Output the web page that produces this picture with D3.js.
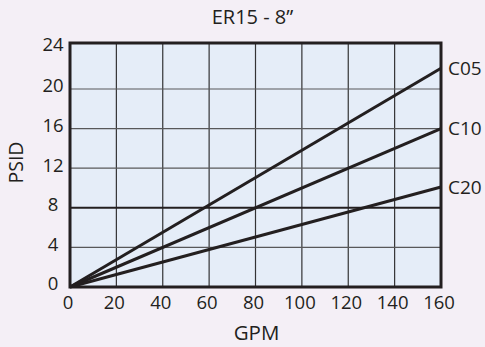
<!DOCTYPE html>
<html><head><meta charset="utf-8">
<script src="https://cdn.jsdelivr.net/npm/d3@7"></script>
<style>
html,body{margin:0;padding:0;background:#f4eff6;}
svg{display:block;}
text{font-family:"Open Sans",sans-serif;fill:#231f20;}
</style></head>
<body>
<svg id="chart" width="485" height="347"></svg>
<script>
const title = "ER15 - 8\u201D";
const xLabel = "GPM";
const yLabel = "PSID";
const xTicks = [0, 20, 40, 60, 80, 100, 120, 140, 160];
const yTicks = [0, 4, 8, 12, 16, 20, 24];
const seriesNames = ["C05", "C10", "C20"];
const flowGPM = [0, 160];
const c05 = [0, 21.8];
const c10 = [0, 16];
const c20 = [0, 10.1];
const seriesValues = [c05, c10, c20];

const svg = d3.select("#chart");
const pL = 70, pR = 441, pT = 43, pB = 287;
const x = d3.scaleLinear().domain([0, 160]).range([pL, pR]);
// the printed chart's top row is slightly taller than the others
const y = d3.scaleLinear().domain([0, 20, 24]).range([pB, 89, pT]);

svg.append("rect").attr("x", pL).attr("y", pT)
  .attr("width", pR - pL).attr("height", pB - pT)
  .attr("fill", "#e5edf8");

// grid
svg.append("g").selectAll("line").data(xTicks.slice(1, -1)).join("line")
  .attr("x1", d => x(d)).attr("x2", d => x(d))
  .attr("y1", pT).attr("y2", pB)
  .attr("stroke", "#333335").attr("stroke-width", 1.2);
svg.append("g").selectAll("line").data(yTicks.slice(1, -1)).join("line")
  .attr("x1", pL).attr("x2", pR)
  .attr("y1", d => y(d)).attr("y2", d => y(d))
  .attr("stroke", d => d === 8 ? "#231f20" : "#58585a")
  .attr("stroke-width", d => d === 8 ? 2 : 1.2);

// lines
const line = d3.line().x((d, i) => x(flowGPM[i])).y(d => y(d));
svg.append("g").selectAll("path").data(seriesValues).join("path")
  .attr("d", d => line(d))
  .attr("fill", "none").attr("stroke", "#231f20").attr("stroke-width", 3);

// border
svg.append("rect").attr("x", pL).attr("y", pT)
  .attr("width", pR - pL).attr("height", pB - pT)
  .attr("fill", "none").attr("stroke", "#231f20").attr("stroke-width", 3);

// axes labels
svg.append("g").selectAll("text").data(xTicks).join("text")
  .attr("x", d => x(d) - 2).attr("y", 309)
  .attr("text-anchor", "middle").attr("font-size", 18.5)
  .text(d => d);
svg.append("g").selectAll("text").data(yTicks).join("text")
  .attr("x", 53).attr("y", d => Math.max(y(d) - 3, pT + 2))
  .attr("dy", "0.35em")
  .attr("text-anchor", "middle").attr("font-size", 18.5)
  .text(d => d);

// series labels
svg.append("g").selectAll("text").data(seriesNames).join("text")
  .attr("x", 448).attr("y", (d, i) => y(seriesValues[i][1]))
  .attr("dy", "0.35em").attr("font-size", 19)
  .text(d => d);

svg.append("text").attr("x", 252.5).attr("y", 24)
  .attr("text-anchor", "middle").attr("font-size", 20).text(title);
svg.append("text").attr("x", 256.5).attr("y", 340)
  .attr("text-anchor", "middle").attr("font-size", 20.5).text(xLabel);
svg.append("text").attr("transform", "translate(23,162.5) rotate(-90)")
  .attr("text-anchor", "middle").attr("font-size", 19.5).text(yLabel);
</script>
</body></html>
